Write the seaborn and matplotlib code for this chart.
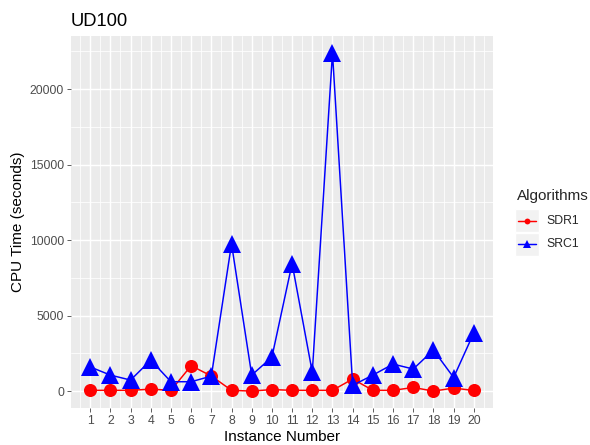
import numpy as np
import pandas as pd
import seaborn as sns
import matplotlib
matplotlib.use("Agg")
import matplotlib.pyplot as plt
from matplotlib.lines import Line2D
from matplotlib.patches import Rectangle

instances = list(range(1, 21))
sdr1 = [50, 50, 50, 130, 50, 1680, 1000, 50, 0, 100, 50, 50, 50, 800, 50, 50, 240, 0, 200, 40]
src1 = [1600, 1060, 730, 2050, 620, 620, 990, 9750, 1060, 2250, 8450, 1250, 22400, 380, 1060, 1790, 1460, 2720, 900, 3860]
algorithms = ["SDR1", "SRC1"]
colors = ["red", "blue"]
markers = ["o", "^"]
msizes = [9.4, 12.5]
yticks = [0, 5000, 10000, 15000, 20000]

df = pd.DataFrame({
    "Instance": instances * 2,
    "Time": sdr1 + src1,
    "Algorithm": ["SDR1"] * len(instances) + ["SRC1"] * len(instances),
})

sns.set_theme(style="darkgrid")
plt.rcParams["font.family"] = ["Liberation Sans", "DejaVu Sans"]

W, H = 590, 445
DPI = 100
fig = plt.figure(figsize=(W / DPI, H / DPI), dpi=DPI)
ax = fig.add_axes([71 / W, 37 / H, 422 / W, 372 / H])
ax.set_facecolor("#EBEBEB")

for alg, col, mk, ms in zip(algorithms, colors, markers, msizes):
    sub = df[df["Algorithm"] == alg]
    sns.lineplot(data=sub, x="Instance", y="Time", color=col, marker=mk,
                 markersize=ms, markeredgewidth=0, lw=1.07, ax=ax, legend=False)

lo, hi = df["Time"].min(), df["Time"].max()
pad = 0.05 * (hi - lo)
ax.set_ylim(lo - pad, hi + pad)
ax.set_xlim(0.05, 20.95)
ax.set_xticks(instances)
ax.set_xticks([i + 0.5 for i in instances[:-1]] + [0.5, 20.5], minor=True)
ax.set_yticks(yticks)
ax.set_yticks([2500, 7500, 12500, 17500, 22500], minor=True)
ax.grid(which="major", color="white", lw=1.07)
ax.grid(which="minor", color="white", lw=0.55)
for s in ax.spines.values():
    s.set_visible(False)
ax.tick_params(which="major", length=2.75, width=0.55, color="#333333",
               labelsize=8.8, labelcolor="#4D4D4D", pad=2.2, left=True, bottom=True)
ax.tick_params(which="minor", length=0)
ax.set_xlabel("Instance Number", fontsize=11, color="black", labelpad=2.2)
ax.set_ylabel("CPU Time (seconds)", fontsize=11, color="black", labelpad=3.5)
ax.set_title("UD100", loc="left", fontsize=13.2, color="black", pad=7)

# legend
fig.text(517 / W, 1 - 196 / H, "Algorithms", fontsize=11, va="center", ha="left")
key_top = [209, 233]
for i, (alg, col, mk) in enumerate(zip(algorithms, colors, markers)):
    y0 = key_top[i]
    fig.patches.append(Rectangle((515 / W, 1 - (y0 + 23) / H), 24 / W, 23 / H,
                                 transform=fig.transFigure, facecolor="#F2F2F2",
                                 edgecolor="white", lw=1))
    yc = 1 - (y0 + 11.5) / H
    fig.add_artist(Line2D([518 / W, 536 / W], [yc, yc], transform=fig.transFigure,
                          color=col, lw=1.07))
    fig.add_artist(Line2D([527 / W], [yc], transform=fig.transFigure, color=col,
                          marker=mk, markersize=4.2 if mk == "o" else 5.2, markeredgewidth=0))
    fig.text(546 / W, yc, alg, fontsize=8.8, va="center", ha="left")

fig.savefig("out.png", dpi=DPI)
